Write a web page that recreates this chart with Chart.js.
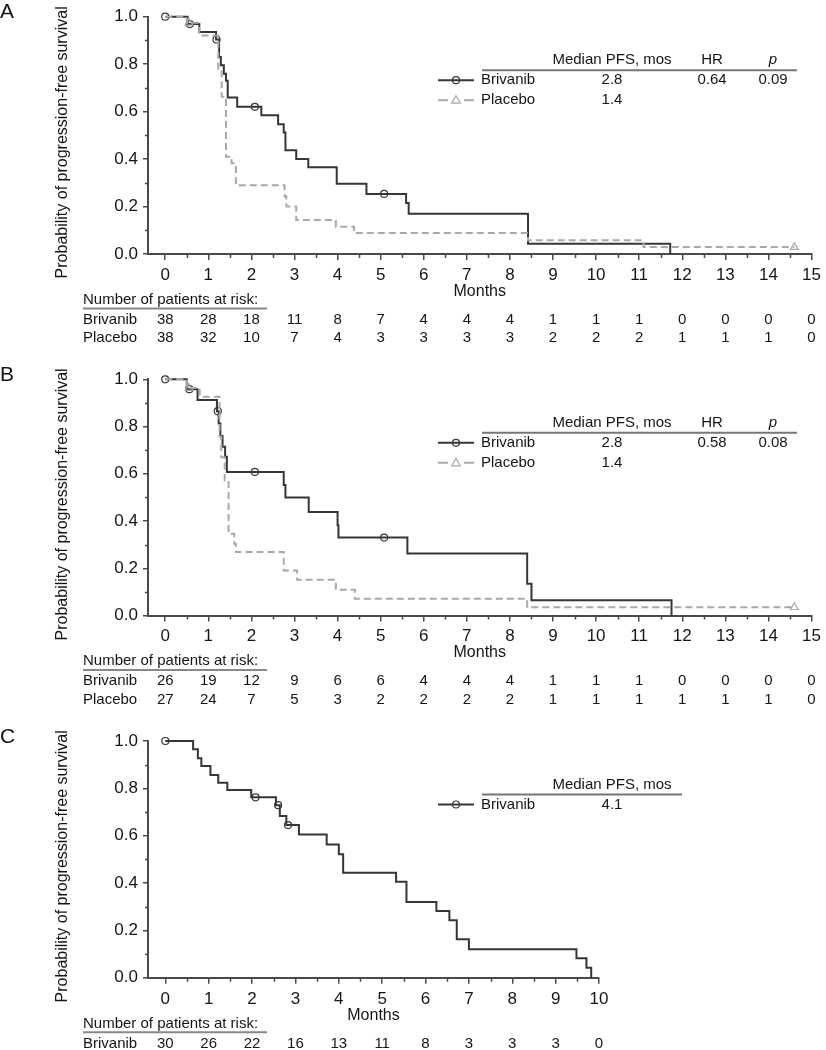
<!DOCTYPE html>
<html>
<head>
<meta charset="utf-8">
<script src="https://cdn.jsdelivr.net/npm/chart.js@4.4.0/dist/chart.umd.min.js"></script>
<style>
  html, body { margin: 0; padding: 0; background: #fff; }
  .panel { position: absolute; left: 0; }
</style>
</head>
<body>
<div class="panel" style="top:0"><canvas id="chartA" width="826" height="352"></canvas></div>
<div class="panel" style="top:360px"><canvas id="chartB" width="826" height="352"></canvas></div>
<div class="panel" style="top:722px"><canvas id="chartC" width="826" height="328"></canvas></div>
<script>
// --- DATA ---
// Panel A: step times (months) and survival after each step
const briA_t = [0, 0.52, 0.79, 1.18, 1.25, 1.29, 1.36, 1.41, 1.45, 1.67, 2.23, 2.62, 2.75, 2.79, 3.04, 3.32, 3.98, 4.67, 5.59, 5.65, 8.42, 11.72];
const briA_s = [1.0, 0.969, 0.936, 0.904, 0.83, 0.795, 0.76, 0.73, 0.66, 0.62, 0.585, 0.547, 0.512, 0.437, 0.40, 0.366, 0.296, 0.253, 0.215, 0.17, 0.043, 0.0];
const briA_censT = [0, 0.57, 1.19, 2.08, 5.08];
const briA_censS = [1.0, 0.969, 0.904, 0.62, 0.253];
const plaA_t = [0, 0.5, 0.79, 1.23, 1.31, 1.41, 1.54, 1.64, 2.77, 2.81, 3.04, 3.96, 4.38, 8.42, 11.1, 14.6];
const plaA_s = [1.0, 0.974, 0.921, 0.775, 0.663, 0.41, 0.382, 0.29, 0.242, 0.2, 0.143, 0.115, 0.088, 0.058, 0.029, 0.029];
const plaA_censT = [0.55, 14.6];
const plaA_censS = [0.974, 0.029];
const riskBriA = [38, 28, 18, 11, 8, 7, 4, 4, 4, 1, 1, 1, 0, 0, 0, 0];
const riskPlaA = [38, 32, 10, 7, 4, 3, 3, 3, 3, 2, 2, 2, 1, 1, 1, 0];
const statsA = ['2.8', '1.4', '0.64', '0.09'];

// Panel B
const briB_t = [0, 0.5, 0.75, 1.2, 1.24, 1.28, 1.33, 1.39, 1.43, 2.75, 2.79, 3.33, 4.0, 4.02, 5.62, 8.4, 8.5, 11.75];
const briB_s = [1.0, 0.958, 0.912, 0.865, 0.813, 0.76, 0.714, 0.672, 0.608, 0.552, 0.50, 0.438, 0.382, 0.33, 0.262, 0.134, 0.065, 0.0];
const briB_censT = [0, 0.56, 1.22, 2.08, 5.08];
const briB_censS = [1.0, 0.958, 0.865, 0.608, 0.33];
const plaB_t = [0, 0.5, 0.8, 1.26, 1.3, 1.38, 1.47, 1.6, 1.64, 2.75, 3.06, 3.96, 4.4, 8.4, 14.6];
const plaB_s = [1.0, 0.963, 0.926, 0.757, 0.67, 0.573, 0.346, 0.304, 0.269, 0.19, 0.151, 0.109, 0.071, 0.035, 0.035];
const plaB_censT = [0.55, 14.6];
const plaB_censS = [0.963, 0.035];
const riskBriB = [26, 19, 12, 9, 6, 6, 4, 4, 4, 1, 1, 1, 0, 0, 0, 0];
const riskPlaB = [27, 24, 7, 5, 3, 2, 2, 2, 2, 1, 1, 1, 1, 1, 1, 0];
const statsB = ['2.8', '1.4', '0.58', '0.08'];

// Panel C
const briC_t = [0, 0.64, 0.75, 0.83, 1.04, 1.22, 1.43, 1.98, 2.55, 2.64, 2.79, 3.08, 3.72, 4.0, 4.1, 5.32, 5.56, 6.25, 6.55, 6.72, 7.0, 9.48, 9.71, 9.82];
const briC_s = [1.0, 0.965, 0.927, 0.894, 0.856, 0.824, 0.793, 0.762, 0.729, 0.683, 0.645, 0.605, 0.563, 0.522, 0.443, 0.405, 0.32, 0.282, 0.243, 0.162, 0.12, 0.082, 0.042, 0.0];
const briC_censT = [0, 2.08, 2.6, 2.83];
const briC_censS = [1.0, 0.762, 0.729, 0.645];
const riskBriC = [30, 26, 22, 16, 13, 11, 8, 3, 3, 3, 0];
const statsC = ['4.1'];

// tick values
const monthTicks15 = [0, 1, 2, 3, 4, 5, 6, 7, 8, 9, 10, 11, 12, 13, 14, 15];
const monthTicks10 = [0, 1, 2, 3, 4, 5, 6, 7, 8, 9, 10];
const probTicks = [0, 0.2, 0.4, 0.6, 0.8, 1.0];

const FONT = '"Liberation Sans", Arial, Helvetica, sans-serif';
const TEXT = '#151515';
const AXIS = '#4a4a4a';
const BRI_COLOR = '#363636';
const PLA_COLOR = '#a9a9a9';

Chart.defaults.font.family = FONT;
Chart.defaults.color = TEXT;

function pts(t, s) { return t.map((v, i) => ({ x: v, y: s[i] })); }

function drawMarker(ctx, style, x, y, color) {
    ctx.save();
    ctx.strokeStyle = color;
    ctx.lineWidth = 1.2;
    ctx.setLineDash([]);
    ctx.beginPath();
    if (style === 'triangle') {
        ctx.moveTo(x, y - 4.5);
        ctx.lineTo(x + 4.2, y + 3);
        ctx.lineTo(x - 4.2, y + 3);
        ctx.closePath();
    } else {
        ctx.arc(x, y, 3.5, 0, Math.PI * 2);
    }
    ctx.stroke();
    ctx.restore();
}

// minor ticks, y title, panel letter, legend table and at-risk table
const kmExtras = {
    id: 'kmExtras',
    afterDraw(chart, args, o) {
        const { ctx, chartArea: a, scales: { x, y } } = chart;
        ctx.save();

        // minor ticks
        ctx.strokeStyle = AXIS;
        ctx.lineWidth = 1.5;
        ctx.beginPath();
        for (let m = 0.5; m < o.xMax; m += 1) {
            const px = Math.round(x.getPixelForValue(m)) + 0.5;
            ctx.moveTo(px, a.bottom);
            ctx.lineTo(px, a.bottom + 4);
        }
        for (let v = 0.1; v < 1; v += 0.2) {
            const py = Math.round(y.getPixelForValue(v)) + 0.5;
            ctx.moveTo(a.left, py);
            ctx.lineTo(a.left - 3, py);
        }
        ctx.stroke();

        ctx.fillStyle = TEXT;
        ctx.textBaseline = 'middle';

        // y axis title (sits a little below the plot centre in the original)
        ctx.save();
        ctx.translate(63, (a.top + a.bottom) / 2 + 7);
        ctx.rotate(-Math.PI / 2);
        ctx.font = '16px ' + FONT;
        ctx.textAlign = 'center';
        ctx.fillText('Probability of progression-free survival', 0, 0);
        ctx.restore();

        // panel letter
        ctx.font = '21px ' + FONT;
        ctx.textAlign = 'left';
        ctx.fillText(o.letter, 0, a.top - 4);

        // legend table
        const ly = a.top;
        ctx.font = '15px ' + FONT;
        ctx.textAlign = 'center';
        ctx.fillText('Median PFS, mos', 612, ly + 43.5);
        if (o.rows.length > 1) {
            ctx.fillText('HR', 712, ly + 43.5);
            ctx.font = 'italic 15px ' + FONT;
            ctx.fillText('p', 773, ly + 43.5);
            ctx.font = '15px ' + FONT;
        }
        ctx.strokeStyle = '#777';
        ctx.lineWidth = 2;
        ctx.beginPath();
        ctx.moveTo(482, ly + 53.5);
        ctx.lineTo(o.ruleEnd, ly + 53.5);
        ctx.stroke();

        o.rows.forEach((r, i) => {
            const ry = ly + 63.5 + 20 * i;
            ctx.strokeStyle = r.color;
            ctx.lineWidth = 2;
            ctx.beginPath();
            if (r.marker === 'triangle') {
                ctx.moveTo(438, ry); ctx.lineTo(448, ry);
                ctx.moveTo(464, ry); ctx.lineTo(474, ry);
            } else {
                ctx.moveTo(438, ry); ctx.lineTo(474, ry);
            }
            ctx.stroke();
            drawMarker(ctx, r.marker, 456, ry, r.color);
            ctx.fillStyle = TEXT;
            ctx.textAlign = 'left';
            ctx.fillText(r.name, 481, ry);
            ctx.textAlign = 'center';
            ctx.fillText(o.stats[i], 612, ry);
            if (i === 0 && o.stats.length > 2) {
                ctx.fillText(o.stats[2], 712, ry);
                ctx.fillText(o.stats[3], 773, ry);
            }
        });

        // number at risk
        const by = a.bottom;
        ctx.font = '15px ' + FONT;
        ctx.textAlign = 'left';
        ctx.fillText('Number of patients at risk:', 83, by + 45.7);
        ctx.strokeStyle = '#888';
        ctx.lineWidth = 2;
        ctx.beginPath();
        ctx.moveTo(83, by + 54.5);
        ctx.lineTo(267, by + 54.5);
        ctx.stroke();
        o.risk.forEach((row, i) => {
            const ry = by + 65.7 + 18.5 * i;
            ctx.textAlign = 'left';
            ctx.fillText(o.rows[i].name, 83, ry);
            ctx.textAlign = 'center';
            row.forEach((n, m) => ctx.fillText(String(n), x.getPixelForValue(m), ry));
        });
        ctx.restore();
    }
};

function makePanel(id, o) {
    const datasets = [];
    o.curves.forEach(c => {
        datasets.push({
            data: pts(c.t, c.s), stepped: 'before', borderColor: c.color, borderWidth: 2,
            borderDash: c.dash, pointRadius: 0, fill: false, clip: false
        });
        datasets.push({
            data: pts(c.ct, c.cs), showLine: false, pointStyle: c.marker,
            pointRadius: c.marker === 'triangle' ? 4.5 : 3.5, borderColor: c.color, borderWidth: 1.2,
            backgroundColor: 'rgba(0,0,0,0)', clip: false
        });
    });

    return new Chart(document.getElementById(id), {
        type: 'line',
        data: { datasets },
        plugins: [kmExtras],
        options: {
            responsive: false,
            animation: false,
            devicePixelRatio: 1,
            layout: { padding: { top: o.top, right: o.right, bottom: o.bottom, left: 0 } },
            plugins: { legend: { display: false }, tooltip: { enabled: false }, kmExtras: o },
            scales: {
                x: {
                    type: 'linear', min: -0.4, max: o.xMax, bounds: 'data',
                    afterBuildTicks: s => { s.ticks = o.xTicks.map(v => ({ value: v })); },
                    afterFit: s => { s.height = 50; },
                    ticks: { autoSkip: false, maxRotation: 0, padding: 5, font: { size: 17 }, color: TEXT },
                    grid: { drawOnChartArea: false, drawTicks: true, tickLength: 6, color: AXIS, lineWidth: 1.5 },
                    border: { color: AXIS, width: 2 },
                    title: { display: true, text: 'Months', font: { size: 16 }, color: TEXT, padding: { top: 0, bottom: 3 } }
                },
                y: {
                    type: 'linear', min: 0, max: 1, bounds: 'data',
                    afterBuildTicks: s => { s.ticks = probTicks.map(v => ({ value: v })); },
                    afterFit: s => { s.width = 148; },
                    ticks: { padding: 5, font: { size: 17 }, color: TEXT, callback: v => v.toFixed(1) },
                    grid: { drawOnChartArea: false, drawTicks: true, tickLength: 5, color: AXIS, lineWidth: 1.5 },
                    border: { color: AXIS, width: 2 }
                }
            }
        }
    });
}

const briRow = { name: 'Brivanib', color: BRI_COLOR, marker: 'circle' };
const plaRow = { name: 'Placebo', color: PLA_COLOR, marker: 'triangle' };

makePanel('chartA', {
    letter: 'A', xMax: 15, xTicks: monthTicks15, top: 16.7, right: 10.3, bottom: 48, ruleEnd: 797,
    rows: [briRow, plaRow], stats: statsA, risk: [riskBriA, riskPlaA],
    curves: [
        { t: plaA_t, s: plaA_s, ct: plaA_censT, cs: plaA_censS, color: PLA_COLOR, dash: [7, 4], marker: 'triangle' },
        { t: briA_t, s: briA_s, ct: briA_censT, cs: briA_censS, color: BRI_COLOR, dash: [], marker: 'circle' }
    ]
});

makePanel('chartB', {
    letter: 'B', xMax: 15, xTicks: monthTicks15, top: 19.3, right: 10.3, bottom: 46.5, ruleEnd: 797,
    rows: [briRow, plaRow], stats: statsB, risk: [riskBriB, riskPlaB],
    curves: [
        { t: plaB_t, s: plaB_s, ct: plaB_censT, cs: plaB_censS, color: PLA_COLOR, dash: [7, 4], marker: 'triangle' },
        { t: briB_t, s: briB_s, ct: briB_censT, cs: briB_censS, color: BRI_COLOR, dash: [], marker: 'circle' }
    ]
});

makePanel('chartC', {
    letter: 'C', xMax: 10, xTicks: monthTicks10, top: 19, right: 227, bottom: 22.3, ruleEnd: 682,
    rows: [briRow], stats: statsC, risk: [riskBriC],
    curves: [
        { t: briC_t, s: briC_s, ct: briC_censT, cs: briC_censS, color: BRI_COLOR, dash: [], marker: 'circle' }
    ]
});
</script>
</body>
</html>
